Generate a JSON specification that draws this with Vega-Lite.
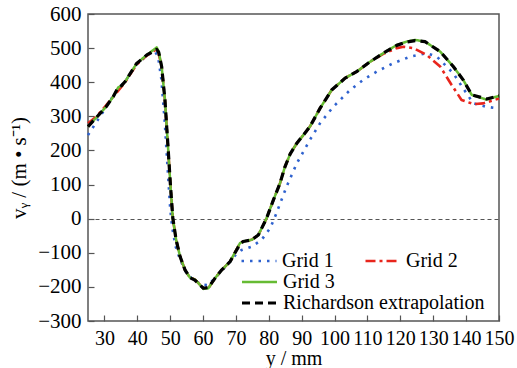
{
  "$schema": "https://vega.github.io/schema/vega-lite/v6.json",
  "width": 411,
  "height": 307,
  "autosize": {"type": "none"},
  "padding": {"left": 88, "top": 14, "right": 18, "bottom": 47},
  "background": "white",
  "config": {
    "view": {"stroke": "#555555", "strokeWidth": 1.5},
    "font": "Liberation Serif",
    "axis": {
      "labelFont": "Liberation Serif",
      "titleFont": "Liberation Serif",
      "labelFontSize": 21,
      "titleFontSize": 21,
      "labelColor": "black",
      "titleColor": "black",
      "titleFontWeight": "normal",
      "domain": false,
      "tickColor": "#555555",
      "tickWidth": 1.2,
      "tickSize": -6,
      "labelFlush": false,
      "labelOverlap": false,
      "labelSeparation": 0
    },
    "legend": {
      "title": null,
      "orient": "none",
      "symbolType": "stroke",
      "symbolSize": 1225,
      "labelOffset": 4,
      "labelLimit": 400,
      "labelFont": "Liberation Serif",
      "labelFontSize": 20,
      "labelColor": "black",
      "padding": 0,
      "rowPadding": 0,
      "clipHeight": 21
    }
  },
  "data": {
    "values": [
      {"series": "Grid 1", "x": 25, "v": 245},
      {"series": "Grid 1", "x": 27, "v": 275},
      {"series": "Grid 1", "x": 29.5, "v": 312},
      {"series": "Grid 1", "x": 32, "v": 350},
      {"series": "Grid 1", "x": 34.2, "v": 383},
      {"series": "Grid 1", "x": 36.3, "v": 402},
      {"series": "Grid 1", "x": 39.8, "v": 453},
      {"series": "Grid 1", "x": 42.9, "v": 478},
      {"series": "Grid 1", "x": 45.3, "v": 492},
      {"series": "Grid 1", "x": 46.3, "v": 475},
      {"series": "Grid 1", "x": 47.3, "v": 410},
      {"series": "Grid 1", "x": 48.3, "v": 290},
      {"series": "Grid 1", "x": 49.2, "v": 150},
      {"series": "Grid 1", "x": 50, "v": 30},
      {"series": "Grid 1", "x": 50.6, "v": -25},
      {"series": "Grid 1", "x": 51.6, "v": -80},
      {"series": "Grid 1", "x": 53, "v": -120},
      {"series": "Grid 1", "x": 55, "v": -160},
      {"series": "Grid 1", "x": 57, "v": -180},
      {"series": "Grid 1", "x": 60.1, "v": -194},
      {"series": "Grid 1", "x": 61.5, "v": -195},
      {"series": "Grid 1", "x": 63, "v": -180},
      {"series": "Grid 1", "x": 65, "v": -160},
      {"series": "Grid 1", "x": 68, "v": -128},
      {"series": "Grid 1", "x": 70, "v": -105},
      {"series": "Grid 1", "x": 71.7, "v": -92},
      {"series": "Grid 1", "x": 74.8, "v": -82},
      {"series": "Grid 1", "x": 77.8, "v": -62},
      {"series": "Grid 1", "x": 80.4, "v": -28},
      {"series": "Grid 1", "x": 81.9, "v": 6},
      {"series": "Grid 1", "x": 85.4, "v": 94},
      {"series": "Grid 1", "x": 88.5, "v": 162},
      {"series": "Grid 1", "x": 92.5, "v": 231},
      {"series": "Grid 1", "x": 95.6, "v": 280},
      {"series": "Grid 1", "x": 99.6, "v": 328},
      {"series": "Grid 1", "x": 104.7, "v": 377},
      {"series": "Grid 1", "x": 108.7, "v": 407},
      {"series": "Grid 1", "x": 112.8, "v": 431},
      {"series": "Grid 1", "x": 117.9, "v": 456},
      {"series": "Grid 1", "x": 123, "v": 475},
      {"series": "Grid 1", "x": 128, "v": 485},
      {"series": "Grid 1", "x": 131.1, "v": 475},
      {"series": "Grid 1", "x": 136.1, "v": 426},
      {"series": "Grid 1", "x": 139.1, "v": 382},
      {"series": "Grid 1", "x": 142.2, "v": 338},
      {"series": "Grid 1", "x": 146.2, "v": 328},
      {"series": "Grid 1", "x": 150, "v": 323},

      {"series": "Grid 2", "x": 25, "v": 280},
      {"series": "Grid 2", "x": 27.6, "v": 300},
      {"series": "Grid 2", "x": 30.5, "v": 332},
      {"series": "Grid 2", "x": 32.7, "v": 358},
      {"series": "Grid 2", "x": 34.2, "v": 375},
      {"series": "Grid 2", "x": 36.3, "v": 400},
      {"series": "Grid 2", "x": 39.8, "v": 452},
      {"series": "Grid 2", "x": 42.9, "v": 478},
      {"series": "Grid 2", "x": 45.5, "v": 495},
      {"series": "Grid 2", "x": 46.4, "v": 488},
      {"series": "Grid 2", "x": 47.4, "v": 446},
      {"series": "Grid 2", "x": 48.4, "v": 348},
      {"series": "Grid 2", "x": 49.4, "v": 201},
      {"series": "Grid 2", "x": 50.1, "v": 94},
      {"series": "Grid 2", "x": 50.8, "v": 1},
      {"series": "Grid 2", "x": 51.8, "v": -62},
      {"series": "Grid 2", "x": 53, "v": -111},
      {"series": "Grid 2", "x": 54.5, "v": -150},
      {"series": "Grid 2", "x": 56, "v": -173},
      {"series": "Grid 2", "x": 57.5, "v": -178},
      {"series": "Grid 2", "x": 58.5, "v": -188},
      {"series": "Grid 2", "x": 60.1, "v": -204},
      {"series": "Grid 2", "x": 61.6, "v": -204},
      {"series": "Grid 2", "x": 63.6, "v": -175},
      {"series": "Grid 2", "x": 65.7, "v": -150},
      {"series": "Grid 2", "x": 68.2, "v": -126},
      {"series": "Grid 2", "x": 71.2, "v": -72},
      {"series": "Grid 2", "x": 72.2, "v": -67},
      {"series": "Grid 2", "x": 74.8, "v": -62},
      {"series": "Grid 2", "x": 76.8, "v": -48},
      {"series": "Grid 2", "x": 79.3, "v": 1},
      {"series": "Grid 2", "x": 81.4, "v": 55},
      {"series": "Grid 2", "x": 83.4, "v": 104},
      {"series": "Grid 2", "x": 84.9, "v": 152},
      {"series": "Grid 2", "x": 86.5, "v": 190},
      {"series": "Grid 2", "x": 88.5, "v": 221},
      {"series": "Grid 2", "x": 90.5, "v": 245},
      {"series": "Grid 2", "x": 92.5, "v": 270},
      {"series": "Grid 2", "x": 95.6, "v": 324},
      {"series": "Grid 2", "x": 99.1, "v": 377},
      {"series": "Grid 2", "x": 103.2, "v": 412},
      {"series": "Grid 2", "x": 106.7, "v": 431},
      {"series": "Grid 2", "x": 110.8, "v": 460},
      {"series": "Grid 2", "x": 114.8, "v": 483},
      {"series": "Grid 2", "x": 118.9, "v": 500},
      {"series": "Grid 2", "x": 121, "v": 504},
      {"series": "Grid 2", "x": 124, "v": 500},
      {"series": "Grid 2", "x": 128, "v": 480},
      {"series": "Grid 2", "x": 132.1, "v": 446},
      {"series": "Grid 2", "x": 135.6, "v": 392},
      {"series": "Grid 2", "x": 138.6, "v": 348},
      {"series": "Grid 2", "x": 142.2, "v": 336},
      {"series": "Grid 2", "x": 145.2, "v": 338},
      {"series": "Grid 2", "x": 150, "v": 352},

      {"series": "Grid 3", "x": 25, "v": 270},
      {"series": "Grid 3", "x": 27.6, "v": 297},
      {"series": "Grid 3", "x": 30.5, "v": 328},
      {"series": "Grid 3", "x": 32.7, "v": 358},
      {"series": "Grid 3", "x": 34.2, "v": 385},
      {"series": "Grid 3", "x": 35.2, "v": 390},
      {"series": "Grid 3", "x": 36.3, "v": 402},
      {"series": "Grid 3", "x": 39.8, "v": 455},
      {"series": "Grid 3", "x": 42.9, "v": 480},
      {"series": "Grid 3", "x": 45.9, "v": 502},
      {"series": "Grid 3", "x": 46.5, "v": 490},
      {"series": "Grid 3", "x": 47.4, "v": 446},
      {"series": "Grid 3", "x": 48.4, "v": 348},
      {"series": "Grid 3", "x": 49.4, "v": 201},
      {"series": "Grid 3", "x": 50.1, "v": 94},
      {"series": "Grid 3", "x": 50.8, "v": 1},
      {"series": "Grid 3", "x": 51.8, "v": -62},
      {"series": "Grid 3", "x": 53, "v": -111},
      {"series": "Grid 3", "x": 54.5, "v": -150},
      {"series": "Grid 3", "x": 56, "v": -173},
      {"series": "Grid 3", "x": 57.5, "v": -178},
      {"series": "Grid 3", "x": 58.5, "v": -188},
      {"series": "Grid 3", "x": 60.1, "v": -206},
      {"series": "Grid 3", "x": 61.6, "v": -204},
      {"series": "Grid 3", "x": 63.6, "v": -175},
      {"series": "Grid 3", "x": 65.7, "v": -150},
      {"series": "Grid 3", "x": 68.2, "v": -126},
      {"series": "Grid 3", "x": 71.2, "v": -72},
      {"series": "Grid 3", "x": 72.2, "v": -67},
      {"series": "Grid 3", "x": 74.8, "v": -62},
      {"series": "Grid 3", "x": 76.8, "v": -48},
      {"series": "Grid 3", "x": 79.3, "v": 1},
      {"series": "Grid 3", "x": 81.4, "v": 55},
      {"series": "Grid 3", "x": 83.4, "v": 104},
      {"series": "Grid 3", "x": 84.9, "v": 152},
      {"series": "Grid 3", "x": 86.5, "v": 190},
      {"series": "Grid 3", "x": 88.5, "v": 221},
      {"series": "Grid 3", "x": 90.5, "v": 245},
      {"series": "Grid 3", "x": 92.5, "v": 270},
      {"series": "Grid 3", "x": 95.6, "v": 324},
      {"series": "Grid 3", "x": 99.1, "v": 377},
      {"series": "Grid 3", "x": 103.2, "v": 412},
      {"series": "Grid 3", "x": 106.7, "v": 431},
      {"series": "Grid 3", "x": 110.8, "v": 460},
      {"series": "Grid 3", "x": 114.8, "v": 485},
      {"series": "Grid 3", "x": 118.9, "v": 509},
      {"series": "Grid 3", "x": 121.9, "v": 519},
      {"series": "Grid 3", "x": 124.5, "v": 524},
      {"series": "Grid 3", "x": 127.5, "v": 519},
      {"series": "Grid 3", "x": 132.1, "v": 490},
      {"series": "Grid 3", "x": 136.1, "v": 446},
      {"series": "Grid 3", "x": 139.1, "v": 407},
      {"series": "Grid 3", "x": 141.7, "v": 363},
      {"series": "Grid 3", "x": 146.2, "v": 349},
      {"series": "Grid 3", "x": 150, "v": 360},

      {"series": "Richardson extrapolation", "x": 25, "v": 270},
      {"series": "Richardson extrapolation", "x": 27.6, "v": 297},
      {"series": "Richardson extrapolation", "x": 30.5, "v": 328},
      {"series": "Richardson extrapolation", "x": 32.7, "v": 358},
      {"series": "Richardson extrapolation", "x": 34.2, "v": 385},
      {"series": "Richardson extrapolation", "x": 35.2, "v": 390},
      {"series": "Richardson extrapolation", "x": 36.3, "v": 402},
      {"series": "Richardson extrapolation", "x": 39.8, "v": 455},
      {"series": "Richardson extrapolation", "x": 42.9, "v": 480},
      {"series": "Richardson extrapolation", "x": 45.9, "v": 496},
      {"series": "Richardson extrapolation", "x": 46.5, "v": 488},
      {"series": "Richardson extrapolation", "x": 47.4, "v": 446},
      {"series": "Richardson extrapolation", "x": 48.4, "v": 348},
      {"series": "Richardson extrapolation", "x": 49.4, "v": 201},
      {"series": "Richardson extrapolation", "x": 50.1, "v": 94},
      {"series": "Richardson extrapolation", "x": 50.8, "v": 1},
      {"series": "Richardson extrapolation", "x": 51.8, "v": -62},
      {"series": "Richardson extrapolation", "x": 53, "v": -111},
      {"series": "Richardson extrapolation", "x": 54.5, "v": -150},
      {"series": "Richardson extrapolation", "x": 56, "v": -173},
      {"series": "Richardson extrapolation", "x": 57.5, "v": -180},
      {"series": "Richardson extrapolation", "x": 58.5, "v": -190},
      {"series": "Richardson extrapolation", "x": 60.1, "v": -204},
      {"series": "Richardson extrapolation", "x": 61.6, "v": -202},
      {"series": "Richardson extrapolation", "x": 63.6, "v": -175},
      {"series": "Richardson extrapolation", "x": 65.7, "v": -150},
      {"series": "Richardson extrapolation", "x": 68.2, "v": -126},
      {"series": "Richardson extrapolation", "x": 71.2, "v": -75},
      {"series": "Richardson extrapolation", "x": 72.2, "v": -67},
      {"series": "Richardson extrapolation", "x": 74.8, "v": -62},
      {"series": "Richardson extrapolation", "x": 76.8, "v": -48},
      {"series": "Richardson extrapolation", "x": 79.3, "v": 1},
      {"series": "Richardson extrapolation", "x": 81.4, "v": 55},
      {"series": "Richardson extrapolation", "x": 83.4, "v": 104},
      {"series": "Richardson extrapolation", "x": 84.9, "v": 152},
      {"series": "Richardson extrapolation", "x": 86.5, "v": 190},
      {"series": "Richardson extrapolation", "x": 88.5, "v": 221},
      {"series": "Richardson extrapolation", "x": 90.5, "v": 245},
      {"series": "Richardson extrapolation", "x": 92.5, "v": 270},
      {"series": "Richardson extrapolation", "x": 95.6, "v": 324},
      {"series": "Richardson extrapolation", "x": 99.1, "v": 377},
      {"series": "Richardson extrapolation", "x": 103.2, "v": 412},
      {"series": "Richardson extrapolation", "x": 106.7, "v": 431},
      {"series": "Richardson extrapolation", "x": 110.8, "v": 460},
      {"series": "Richardson extrapolation", "x": 114.8, "v": 485},
      {"series": "Richardson extrapolation", "x": 118.9, "v": 508},
      {"series": "Richardson extrapolation", "x": 121.9, "v": 518},
      {"series": "Richardson extrapolation", "x": 124.5, "v": 522},
      {"series": "Richardson extrapolation", "x": 127.5, "v": 519},
      {"series": "Richardson extrapolation", "x": 132.1, "v": 490},
      {"series": "Richardson extrapolation", "x": 136.1, "v": 446},
      {"series": "Richardson extrapolation", "x": 139.1, "v": 407},
      {"series": "Richardson extrapolation", "x": 141.7, "v": 363},
      {"series": "Richardson extrapolation", "x": 146.2, "v": 351},
      {"series": "Richardson extrapolation", "x": 150, "v": 360}
    ]
  },
  "encoding": {
    "x": {
      "field": "x",
      "type": "quantitative",
      "scale": {"domain": [25, 150], "nice": false},
      "axis": {
        "title": "y / mm",
        "values": [30, 40, 50, 60, 70, 80, 90, 100, 110, 120, 130, 140, 150],
        "grid": false,
        "labelFontSize": 20,
        "titleFontSize": 20,
        "labelPadding": 13,
        "titlePadding": 0
      }
    },
    "y": {
      "field": "v",
      "type": "quantitative",
      "scale": {"domain": [-300, 600], "nice": false},
      "axis": {
        "title": "vᵧ / (m • s⁻¹)",
        "values": [-300, -200, -100, 0, 100, 200, 300, 400, 500, 600],
        "grid": true,
        "gridColor": "#555555",
        "gridDash": [4, 3],
        "gridWidth": 1,
        "gridOpacity": {"condition": {"test": "datum.value === 0", "value": 1}, "value": 0},
        "labelPadding": 13,
        "titlePadding": 8
      }
    }
  },
  "layer": [
    {
      "transform": [{"filter": {"field": "series", "oneOf": ["Grid 1", "Grid 2"]}}],
      "mark": {"type": "line", "strokeCap": "butt", "strokeJoin": "round"},
      "encoding": {
        "color": {
          "field": "series",
          "type": "nominal",
          "sort": null,
          "scale": {"domain": ["Grid 1", "Grid 2"], "range": ["#2f62cf", "#e8251c"]},
          "legend": {
            "legendX": 152,
            "legendY": 236.5,
            "direction": "horizontal",
            "columns": 2,
            "columnPadding": 30
          }
        },
        "strokeDash": {
          "field": "series",
          "type": "nominal",
          "sort": null,
          "scale": {"domain": ["Grid 1", "Grid 2"], "range": [[2.5, 6], [10, 4, 3, 4]]}
        },
        "strokeWidth": {
          "field": "series",
          "type": "nominal",
          "sort": null,
          "scale": {"domain": ["Grid 1", "Grid 2"], "range": [2.6, 2.6]}
        }
      }
    },
    {
      "transform": [{"filter": {"field": "series", "oneOf": ["Grid 3", "Richardson extrapolation"]}}],
      "mark": {"type": "line", "strokeCap": "butt", "strokeJoin": "round"},
      "encoding": {
        "color": {
          "field": "series",
          "type": "nominal",
          "sort": null,
          "scale": {"domain": ["Grid 3", "Richardson extrapolation"], "range": ["#66bb33", "#000000"]},
          "legend": {
            "legendX": 152,
            "legendY": 257.5,
            "direction": "vertical"
          }
        },
        "strokeDash": {
          "field": "series",
          "type": "nominal",
          "sort": null,
          "scale": {"domain": ["Grid 3", "Richardson extrapolation"], "range": [[1, 0], [8, 5]]}
        },
        "strokeWidth": {
          "field": "series",
          "type": "nominal",
          "sort": null,
          "scale": {"domain": ["Grid 3", "Richardson extrapolation"], "range": [2.5, 3.2]}
        }
      }
    }
  ],
  "resolve": {
    "scale": {"color": "independent", "strokeDash": "independent", "strokeWidth": "independent"},
    "legend": {"color": "independent", "strokeDash": "independent", "strokeWidth": "independent"}
  }
}
